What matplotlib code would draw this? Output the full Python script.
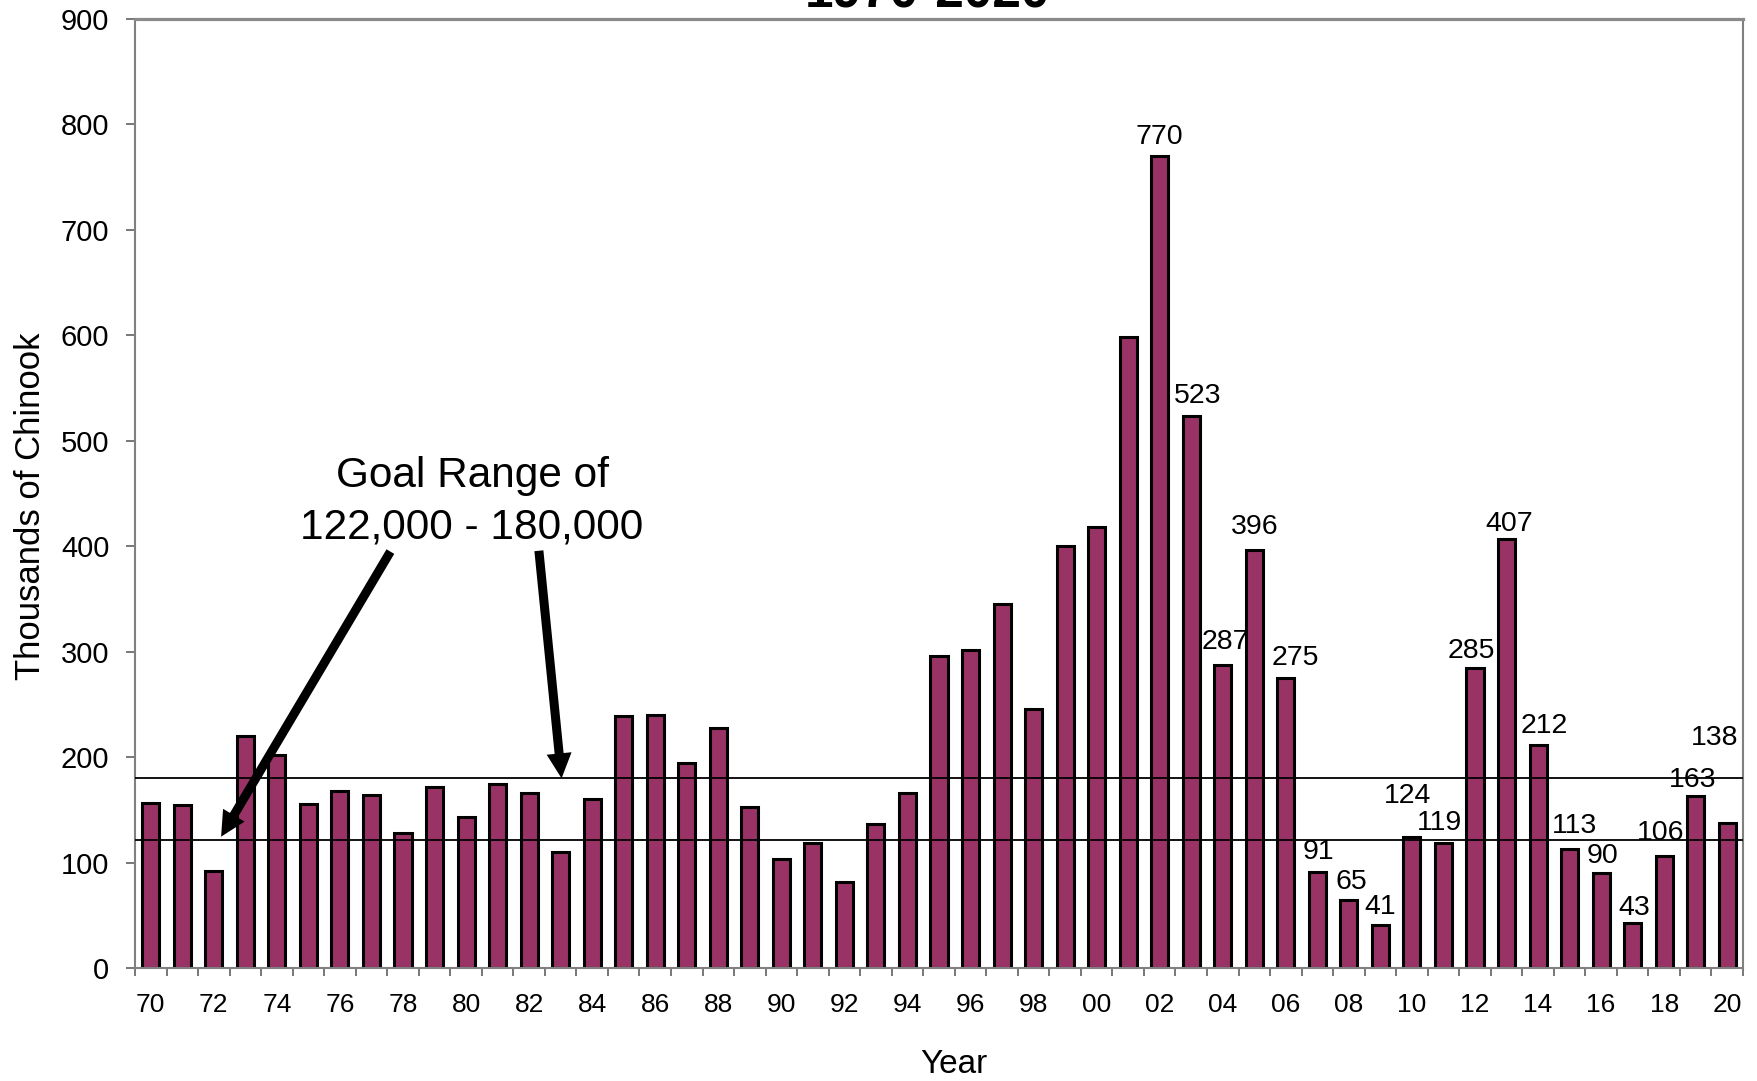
import matplotlib
matplotlib.use("Agg")
import matplotlib.pyplot as plt
import numpy as np

plt.rcParams['font.family'] = ['Liberation Sans', 'DejaVu Sans']

years = list(range(1970, 2021))
year_labels = [f"{y % 100:02d}" for y in years]
escapement = [157, 155, 92, 220, 202, 156, 168, 164, 128, 172,
              143, 175, 166, 110, 160, 239, 240, 195, 228, 153,
              104, 119, 82, 137, 166, 296, 302, 345, 246, 400,
              418, 598, 770, 523, 287, 396, 275, 91, 65, 41,
              124, 119, 285, 407, 212, 113, 90, 43, 106, 163, 138]
goal_low = 122
goal_high = 180
labeled_from = 2002
title_text = "1970-2020"
goal_line1 = "Goal Range of"
goal_line2 = "122,000 - 180,000"

# label offsets (category units, value units) for the annotated bars, 2002-2020
label_dx = [0.0, 0.19, 0.07, 0.0, 0.29, 0.04, 0.08, 0.0, -0.15, -0.13,
            -0.1, 0.07, 0.2, 0.15, 0.05, 0.05, -0.1, -0.1, -0.4]
label_dy = [18, 19, 22, 22, 19, 19.5, 17, 17.4, 39, 18.7,
            16, 14, 17.6, 21.5, 16, 13.8, 22, 15.7, 80]

W, H = 1758, 1081
fig = plt.figure(figsize=(W / 100, H / 100), dpi=100)
ax = fig.add_axes([135 / W, 1 - 968.3 / H, (1743 - 135) / W, (968.3 - 18.6) / H])

x = np.arange(len(years))
ax.bar(x, escapement, width=0.54, color='#993366', edgecolor='black',
       linewidth=2.2, zorder=2)

ax.axhline(goal_high, color='black', lw=1.3, zorder=3)
ax.axhline(goal_low, color='black', lw=1.3, zorder=3)

ax.set_xlim(-0.5, len(years) - 0.5)
ax.set_ylim(0, 900)
ax.set_yticks(np.arange(0, 901, 100))
ax.tick_params(axis='y', labelsize=21, length=6.5, width=1.2, color='#606060', pad=12)

ax.set_xticks(x[::2])
ax.set_xticklabels(year_labels[::2])
ax.set_xticks(np.arange(-0.5, len(years), 1.0), minor=True)
ax.tick_params(axis='x', which='major', length=0, labelsize=19, pad=18)
ax.tick_params(axis='x', which='minor', length=6, width=1.2, color='#606060')

for side in ['left', 'right', 'bottom']:
    ax.spines[side].set_color('#808080')
    ax.spines[side].set_linewidth(1.5)
ax.spines['top'].set_color('#8a8a8a')
ax.spines['top'].set_linewidth(2.3)

start = years.index(labeled_from)
for k, i in enumerate(range(start, len(years))):
    v = escapement[i]
    ax.text(i + label_dx[k], v + label_dy[k], str(v), ha='center', va='center',
            fontsize=20.5, zorder=4)

# goal text and arrows
ax.text(10.19, 467.0, goal_line1, ha='center', va='center', fontsize=30.5)
ax.text(10.19, 417.5, goal_line2, ha='center', va='center', fontsize=30.5)
arrow_style = 'simple,head_length=18,head_width=18,tail_width=6.5'
ax.annotate('', xy=(2.23, 124.7), xytext=(7.60, 394.9),
            arrowprops=dict(arrowstyle=arrow_style, color='black', lw=0,
                            shrinkA=0, shrinkB=0, mutation_scale=1), zorder=5)
ax.annotate('', xy=(13.03, 180.0), xytext=(12.31, 395.7),
            arrowprops=dict(arrowstyle=arrow_style, color='black', lw=0,
                            shrinkA=0, shrinkB=0, mutation_scale=1), zorder=5)

fig.text(40 / W, 1 - 506.7 / H, "Thousands of Chinook", rotation=90,
         rotation_mode='anchor', ha='center', va='baseline', fontsize=25)
fig.text(954 / W, 1 - 1073 / H, "Year", ha='center', va='baseline', fontsize=24)
fig.text(927.5 / W, 1 - 8 / H, title_text, ha='center', va='baseline',
         fontsize=37, fontweight='bold')

fig.savefig("out.png", dpi=100)
